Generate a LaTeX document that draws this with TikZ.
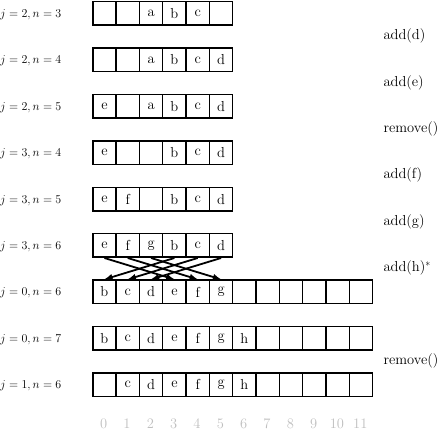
\documentclass[tikz,border=0pt]{standalone}
\usepackage{fontspec}
\usepackage{tikz}
\usetikzlibrary{arrows}

\begin{document}
\begin{tikzpicture}[x=1pt, y=-1pt,
		>=latex,   % Pfeilspitzen
		cell/.style={draw, line width=1.5pt, minimum width=23.33pt, minimum height=23.5pt, inner sep=0pt, anchor=north west},
		op/.style={anchor=west},
		font=\fontsize{14.5}{16}\selectfont]
		\useasboundingbox (0,0) rectangle (440,438);
		% Zustaende der Deque
		\foreach \c [count=\i from 0] in {{},{},a,b,c,{}}
			\node[cell] (r1-\i) at (92+23.33*\i,1) {\c};
		\foreach \c [count=\i from 0] in {{},{},a,b,c,d}
			\node[cell] (r2-\i) at (92+23.33*\i,47.4) {\c};
		\foreach \c [count=\i from 0] in {e,{},a,b,c,d}
			\node[cell] (r3-\i) at (92+23.33*\i,93.8) {\c};
		\foreach \c [count=\i from 0] in {e,{},{},b,c,d}
			\node[cell] (r4-\i) at (92+23.33*\i,140.2) {\c};
		\foreach \c [count=\i from 0] in {e,f,{},b,c,d}
			\node[cell] (r5-\i) at (92+23.33*\i,186.6) {\c};
		\foreach \c [count=\i from 0] in {e,f,g,b,c,d}
			\node[cell] (r6-\i) at (92+23.33*\i,233) {\c};
		\foreach \c [count=\i from 0] in {b,c,d,e,f,g,{},{},{},{},{},{}}
			\node[cell] (r7-\i) at (92+23.33*\i,279.4) {\c};
		\foreach \c [count=\i from 0] in {b,c,d,e,f,g,h,{},{},{},{},{}}
			\node[cell] (r8-\i) at (92+23.33*\i,325.8) {\c};
		\foreach \c [count=\i from 0] in {{},c,d,e,f,g,h,{},{},{},{},{}}
			\node[cell] (r9-\i) at (92+23.33*\i,372.2) {\c};
		% Beschriftung links
		\foreach \lab [count=\k from 0] in {{j=2,n=3},{j=2,n=4},{j=2,n=5},{j=3,n=4},{j=3,n=5},{j=3,n=6},{j=0,n=6},{j=0,n=7},{j=1,n=6}}
			\node[anchor=base west, inner sep=0pt, font=\fontsize{12}{14}\selectfont] (lab\k) at (0,17.5+46.4*\k) {$\lab$};
		% Operationen rechts
		\foreach \o [count=\k from 0] in {add(d),add(e),remove(),add(f),add(g),{add(h)$^*$}}
			\node[op] (op\k) at (380,36+46.4*\k) {\o};
		\node[op] (op7) at (380,361) {remove()};
		% Umkopieren beim Vergroessern
		\foreach \a/\b in {0/3,1/4,2/5,3/0,4/1,5/2}
			\draw[->, line width=1.8pt] (r6-\a.south) -- (r7-\b.north);
		% Indizes
		\foreach \i in {0,...,11}
			\node[text=gray!50] (idx\i) at (103.67+23.33*\i,424) {\i};
	\end{tikzpicture}
\end{document}
